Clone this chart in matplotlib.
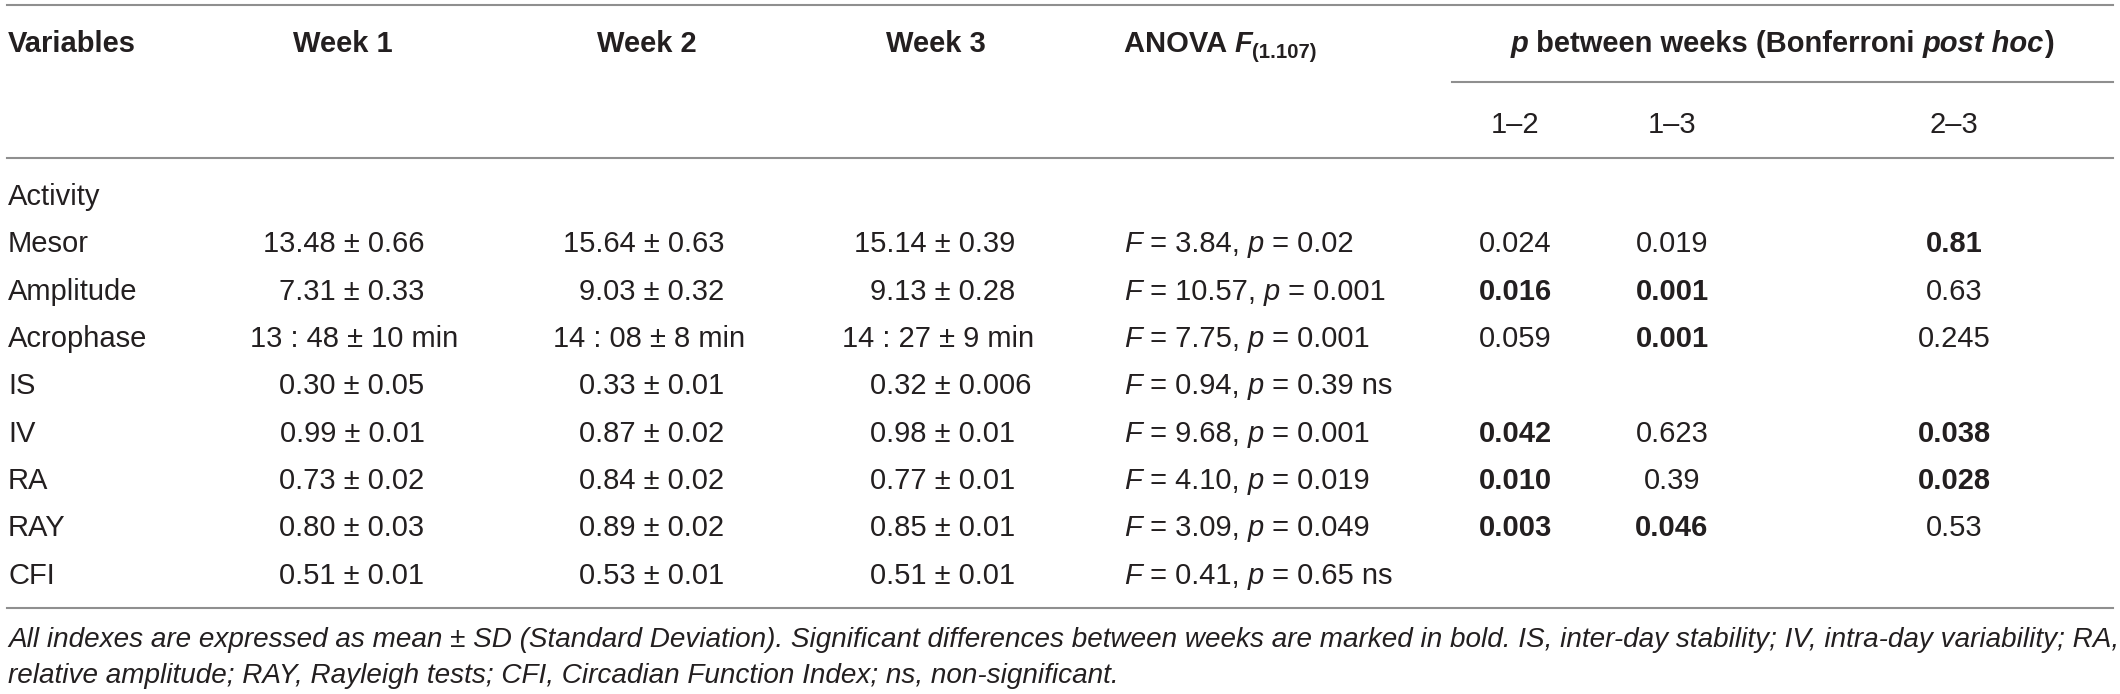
import matplotlib
matplotlib.use("Agg")
import matplotlib.pyplot as plt

# ---------------- data ----------------
variables = ["Mesor", "Amplitude", "Acrophase", "IS", "IV", "RA", "RAY", "CFI"]
week1 = ["13.48 ± 0.66", "7.31 ± 0.33", "13 : 48 ± 10 min", "0.30 ± 0.05",
         "0.99 ± 0.01", "0.73 ± 0.02", "0.80 ± 0.03", "0.51 ± 0.01"]
week2 = ["15.64 ± 0.63", "9.03 ± 0.32", "14 : 08 ± 8 min", "0.33 ± 0.01",
         "0.87 ± 0.02", "0.84 ± 0.02", "0.89 ± 0.02", "0.53 ± 0.01"]
week3 = ["15.14 ± 0.39", "9.13 ± 0.28", "14 : 27 ± 9 min", "0.32 ± 0.006",
         "0.98 ± 0.01", "0.77 ± 0.01", "0.85 ± 0.01", "0.51 ± 0.01"]
anova_F = ["3.84", "10.57", "7.75", "0.94", "9.68", "4.10", "3.09", "0.41"]
anova_p = ["0.02", "0.001", "0.001", "0.39", "0.001", "0.019", "0.049", "0.65"]
anova_ns = [False, False, False, True, False, False, False, True]
p12 = ["0.024", "0.016", "0.059", "", "0.042", "0.010", "0.003", ""]
p13 = ["0.019", "0.001", "0.001", "", "0.623", "0.39", "0.046", ""]
p23 = ["0.81", "0.63", "0.245", "", "0.038", "0.028", "0.53", ""]
bold12 = [False, True, False, False, True, True, True, False]
bold13 = [False, True, True, False, False, False, True, False]
bold23 = [True, False, False, False, True, True, False, False]
col_headers = ["Week 1", "Week 2", "Week 3"]
sub_headers = ["1–2", "1–3", "2–3"]
group_label = "Activity"
footnote = ["All indexes are expressed as mean ± SD (Standard Deviation). Significant differences between weeks are marked in bold. IS, inter-day stability; IV, intra-day variability; RA,",
            "relative amplitude; RAY, Rayleigh tests; CFI, Circadian Function Index; ns, non-significant."]

# ---------------- layout ----------------
W, H = 2120, 694
DPI = 100
FONT = ["Liberation Sans", "DejaVu Sans"]
FS = 21
TXT = "#231f20"
LINE = "#8f8f8f"

fig = plt.figure(figsize=(W / DPI, H / DPI), dpi=DPI)
ax = fig.add_axes([0, 0, 1, 1])
ax.set_xlim(0, W)
ax.set_ylim(H, 0)
ax.axis("off")
renderer = fig.canvas.get_renderer()


def measure(s, **kw):
    t1 = ax.text(0, 0, "|" + s + "|", family=FONT, **kw)
    t2 = ax.text(0, 0, "||", family=FONT, **kw)
    w1 = t1.get_window_extent(renderer).width
    w2 = t2.get_window_extent(renderer).width
    t1.remove()
    t2.remove()
    return w1 - w2


def runs(x, yc, parts, ha="left", size=FS):
    """parts: list of (text, weight, style, size_factor, dy)"""
    widths = [measure(p[0], fontsize=size * p[3], weight=p[1], style=p[2]) for p in parts]
    total = sum(widths)
    if ha == "center":
        x0 = x - total / 2
    elif ha == "right":
        x0 = x - total
    else:
        x0 = x
    cap = size * 0.716 * DPI / 72
    for (s, wt, st, sf, dy), w in zip(parts, widths):
        ax.text(x0, yc + cap / 2 + dy, s, family=FONT, fontsize=size * sf,
                weight=wt, style=st, color=TXT, ha="left", va="baseline")
        x0 += w


def simple(x, yc, s, ha="left", weight="normal", style="normal", size=FS):
    runs(x, yc, [(s, weight, style, 1.0, 0)], ha=ha, size=size)


def pm_aligned(xpm, xc, yc, s):
    if ":" in s or "±" not in s:
        simple(xc, yc, s, ha="center")
        return
    left = s.split("±")[0]
    wl = measure(left, fontsize=FS)
    wpm = measure("±", fontsize=FS)
    simple(xpm - wl - wpm / 2, yc, s, ha="left")


# lines
lw = 1.5
ax.plot([7, 2113], [5, 5], color=LINE, lw=lw)
ax.plot([1452, 2113], [82, 82], color=LINE, lw=lw)
ax.plot([7, 2113], [158, 158], color=LINE, lw=lw)
ax.plot([7, 2113], [608, 608], color=LINE, lw=lw)

# header
hy = 42
simple(8, hy, "Variables", weight="bold")
week_centers = [343, 647, 936]
for c, h in zip(week_centers, col_headers):
    simple(c, hy, h, ha="center", weight="bold")
runs(1124, hy, [("ANOVA ", "bold", "normal", 1.0, 0),
                ("F", "bold", "italic", 1.0, 0),
                ("(1.107)", "bold", "normal", 0.7, 6)])
runs(1782, hy, [("p", "bold", "italic", 1.0, 0),
                (" between weeks (Bonferroni ", "bold", "normal", 1.0, 0),
                ("post hoc", "bold", "italic", 1.0, 0),
                (")", "bold", "normal", 1.0, 0)], ha="center")
p_centers = [1515, 1672, 1954]
for c, h in zip(p_centers, sub_headers):
    simple(c, 123, h, ha="center")

# body
simple(8, 195, group_label)
pm_x = [352, 652, 943]
acro_c = [354, 649, 938]
y0, step = 242, 47.3
for i, v in enumerate(variables):
    y = y0 + i * step
    simple(8, y, v)
    for k, col in enumerate([week1, week2, week3]):
        pm_aligned(pm_x[k], acro_c[k], y, col[i])
    parts = [("F", "normal", "italic", 1.0, 0),
             (" = " + anova_F[i] + ", ", "normal", "normal", 1.0, 0),
             ("p", "normal", "italic", 1.0, 0),
             (" = " + anova_p[i] + (" ns" if anova_ns[i] else ""), "normal", "normal", 1.0, 0)]
    runs(1124, y, parts)
    for c, vals, bolds in zip(p_centers, [p12, p13, p23], [bold12, bold13, bold23]):
        if vals[i]:
            simple(c, y, vals[i], ha="center", weight="bold" if bolds[i] else "normal")

# footnote: fit first line to the table width
target = 2101
w_ref = measure(footnote[0], fontsize=20, style="italic")
FS_FOOT = 20 * target / w_ref
simple(8, 637, footnote[0], style="italic", size=FS_FOOT)
simple(8, 673, footnote[1], style="italic", size=FS_FOOT)

fig.savefig("out.png", dpi=DPI, facecolor="white")
